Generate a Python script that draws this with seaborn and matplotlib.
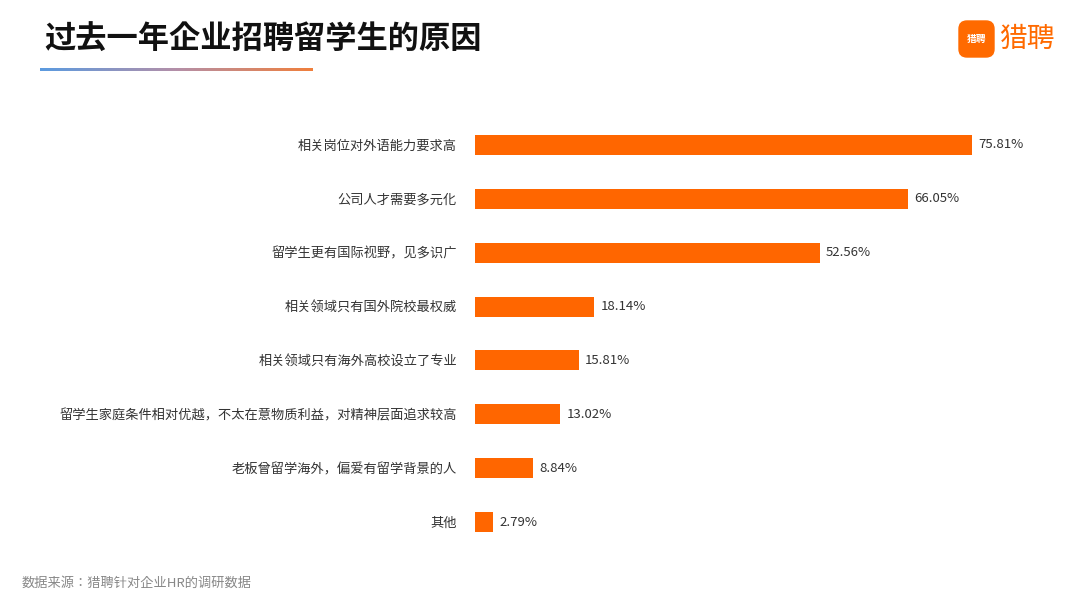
import matplotlib
matplotlib.use("Agg")
import matplotlib.pyplot as plt
from matplotlib import font_manager
import seaborn as sns
import numpy as np
import pandas as pd
from matplotlib.patches import FancyBboxPatch
from matplotlib.colors import LinearSegmentedColormap

cjk = sorted({f.name for f in font_manager.fontManager.ttflist if "CJK" in f.name},
             key=lambda n: (0 if "SC" in n else 1, n))
plt.rcParams["font.family"] = "sans-serif"
plt.rcParams["font.sans-serif"] = cjk + ["DejaVu Sans"]

categories = ["相关岗位对外语能力要求高", "公司人才需要多元化", "留学生更有国际视野，见多识广",
              "相关领域只有国外院校最权威", "相关领域只有海外高校设立了专业",
              "留学生家庭条件相对优越，不太在意物质利益，对精神层面追求较高",
              "老板曾留学海外，偏爱有留学背景的人", "其他"]
values = [75.81, 66.05, 52.56, 18.14, 15.81, 13.02, 8.84, 2.79]
labels = ["75.81%", "66.05%", "52.56%", "18.14%", "15.81%", "13.02%", "8.84%", "2.79%"]

df = pd.DataFrame({"cat": categories, "val": values})
fig = plt.figure(figsize=(10.8, 6.09), dpi=100)
ax = fig.add_axes([475/1080, 1-549/609, 524.5/1080, 431/609])
sns.barplot(data=df, x="val", y="cat", color="#FF6600", width=0.37, ax=ax, saturation=1)
for i, (v, l) in enumerate(zip(values, labels)):
    ax.text(v + 1.0, i, l, va="center", ha="left", fontsize=9.5, color="#333333")
ax.set_xlim(0, 80)
ax.set_xlabel(""); ax.set_ylabel("")
ax.set_xticks([])
ax.tick_params(axis="y", length=0, pad=13, labelsize=9.5, labelcolor="#333333")
for s in ax.spines.values():
    s.set_visible(False)

fig.text(44/1080, 1-40/609, "过去一年企业招聘留学生的原因", fontsize=22.5, fontweight="bold", va="center", color="#111111")
gax = fig.add_axes([40/1080, 1-71/609, 273/1080, 3/609])
grad = np.linspace(0, 1, 256)[None, :]
cm = LinearSegmentedColormap.from_list("g", ["#5B9BE0", "#B48FA8", "#F07F3C"])
gax.imshow(grad, aspect="auto", cmap=cm)
gax.axis("off")

lax = fig.add_axes([0, 0, 1, 1], facecolor="none")
lax.set_xlim(0, 1080); lax.set_ylim(609, 0); lax.axis("off")
lax.add_patch(FancyBboxPatch((959, 21), 35, 36, boxstyle="round,pad=0,rounding_size=8", color="#FF6A00"))
lax.text(976.5, 39, "猎聘", color="white", fontsize=7, ha="center", va="center", fontweight="bold")
lax.text(999, 39, "猎聘", color="#FF6A00", fontsize=20, ha="left", va="center")
fig.text(22/1080, 1-583/609, "数据来源：猎聘针对企业HR的调研数据", fontsize=9.5, color="#888888", va="center")
fig.savefig("out.png", dpi=100)
